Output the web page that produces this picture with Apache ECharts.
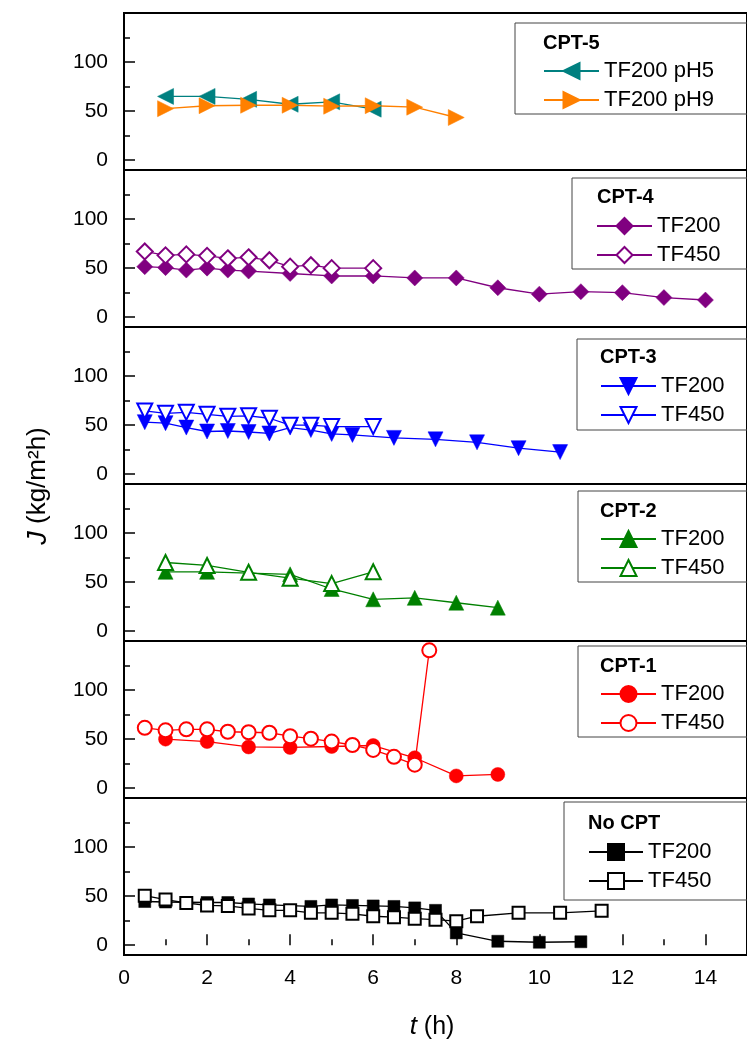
<!DOCTYPE html>
<html><head><meta charset="utf-8">
<script src="https://cdn.jsdelivr.net/npm/echarts@6/dist/echarts.min.js"></script>
<style>html,body{margin:0;padding:0;background:#fff}#c{width:747px;height:1046px}</style>
</head><body><div id="c"></div>
<script>
// ---- tick values ----
const xTickLabels = [0, 2, 4, 6, 8, 10, 12, 14];
const xMinorTicks = [1, 3, 5, 7, 9, 11, 13];
const yTickLabels = [0, 50, 100];
const yMinorTicks = [25, 75, 125];

// ---- panel titles (top to bottom) ----
const panelTitles = ['CPT-5', 'CPT-4', 'CPT-3', 'CPT-2', 'CPT-1', 'No CPT'];

// ---- data: [t (h), J (kg/m2h)] ----
const cpt5_pH5 = [[1,65],[2,65],[3,62],[4,57],[5,59.5],[6,52]];
const cpt5_pH9 = [[1,52.5],[2,55.5],[3,56],[4,56],[5,55],[6,55.5],[7,54],[8,43.5]];

const cpt4_TF200 = [[0.5,51.5],[1,50.5],[1.5,48],[2,50],[2.5,48],[3,47],[4,44.5],[5,42],[6,42],[7,40],[8,40],[9,30],[10,23.5],[11,26],[12,25],[13,20],[14,17.5]];
const cpt4_TF450 = [[0.5,67],[1,63],[1.5,64],[2,62.5],[2.5,60],[3,61],[3.5,58],[4,51.5],[4.5,53],[5,50],[6,50]];

const cpt3_TF200 = [[0.5,53],[1,52],[1.5,47.5],[2,43.5],[2.5,44],[3,43],[3.5,41.5],[4,47.5],[4.5,45],[5,41],[5.5,40],[6.5,37],[7.5,35.5],[8.5,32.5],[9.5,26.5],[10.5,22.5]];
const cpt3_TF450 = [[0.5,64.5],[1,62],[1.5,63],[2,61],[2.5,59],[3,59.5],[3.5,57],[4,50],[4.5,50],[5,48.5],[6,48.5]];

const cpt2_TF200 = [[1,60.5],[2,60.5],[4,58],[5,43],[6,32.5],[7,34],[8,29],[9,24]];
const cpt2_TF450 = [[1,70],[2,67],[3,60],[4,54],[5,48.5],[6,60.5]];

const cpt1_TF200 = [[1,50],[2,47.5],[3,42],[4,41.5],[5,42.5],[6,43.5],[7,31],[8,12.5],[9,14]];
const cpt1_TF450 = [[0.5,61.5],[1,59],[1.5,60],[2,60],[2.5,57.5],[3,57],[3.5,56.5],[4,53],[4.5,50.5],[5,47.5],[5.5,44],[6,39],[6.5,32],[7,24],[7.35,140.5]];

const nocpt_TF200 = [[0.5,44.5],[1,44],[2,43.5],[2.5,43.5],[3,42],[3.5,41],[4.5,39.5],[5,41],[5.5,40.5],[6,40],[6.5,39.5],[7,38],[7.5,35.5],[8,12.5],[9,4],[10,3],[11,3.5]];
const nocpt_TF450 = [[0.5,50.5],[1,46.5],[1.5,43],[2,40.5],[2.5,40],[3,37.5],[3.5,35.5],[4,35.5],[4.5,33],[5,33],[5.5,32],[6,29.5],[6.5,28.5],[7,27],[7.5,26],[8,24.5],[8.5,29.5],[9.5,33],[10.5,33],[11.5,35]];

// ---- layout / style ----
const FONT = 'Liberation Sans, Arial, Helvetica, sans-serif';
const GRID_LEFT = 124, GRID_TOP = 13, PANEL_H = 157, GRID_W = 630;

const panels = [
  { series: [
      { label: 'TF200 pH5', data: cpt5_pH5, color: '#008080', symbol: 'triangle', rotate: 90, size: 16 },
      { label: 'TF200 pH9', data: cpt5_pH9, color: '#FF8000', symbol: 'triangle', rotate: -90, size: 16 } ],
    box: [515, 23, 260, 91], title: [543, 43], leg: [543, 61], itemW: 55 },
  { series: [
      { label: 'TF200', data: cpt4_TF200, color: '#800080', symbol: 'diamond', size: 16 },
      { label: 'TF450', data: cpt4_TF450, color: '#800080', symbol: 'emptyDiamond', size: 16 } ],
    box: [572, 178, 200, 91], title: [597, 197], leg: [596, 216], itemW: 55 },
  { series: [
      { label: 'TF200', data: cpt3_TF200, color: '#0000FF', symbol: 'triangle', rotate: 180, size: 15 },
      { label: 'TF450', data: cpt3_TF450, color: '#0000FF', symbol: 'emptyTriangle', rotate: 180, size: 15 } ],
    box: [577, 339, 200, 91], title: [600, 357], leg: [600, 376], itemW: 55 },
  { series: [
      { label: 'TF200', data: cpt2_TF200, color: '#008000', symbol: 'triangle', size: 15 },
      { label: 'TF450', data: cpt2_TF450, color: '#008000', symbol: 'emptyTriangle', size: 15 } ],
    box: [578, 491, 200, 91], title: [600, 511], leg: [600, 529], itemW: 55 },
  { series: [
      { label: 'TF200', data: cpt1_TF200, color: '#FF0000', symbol: 'circle', size: 14 },
      { label: 'TF450', data: cpt1_TF450, color: '#FF0000', symbol: 'emptyCircle', size: 14 } ],
    box: [578, 646, 200, 91], title: [600, 666], leg: [600, 684], itemW: 55 },
  { series: [
      { label: 'TF200', data: nocpt_TF200, color: '#000000', symbol: 'rect', size: 12 },
      { label: 'TF450', data: nocpt_TF450, color: '#000000', symbol: 'emptyRect', size: 12 } ],
    box: [564, 802, 220, 98], title: [588, 823], leg: [588, 842], itemW: 54 }
];

const grid = [], xAxis = [], yAxis = [], series = [], legend = [], graphic = [];

panels.forEach((p, i) => {
  grid.push({ left: GRID_LEFT, top: GRID_TOP + PANEL_H * i, width: GRID_W, height: PANEL_H,
    show: true, borderColor: '#000', borderWidth: 2, backgroundColor: 'transparent' });
  const isBottom = i === panels.length - 1;
  xAxis.push({ gridIndex: i, type: 'value', min: 0, max: 15, show: isBottom, position: 'bottom',
    axisLine: { show: false }, splitLine: { show: false },
    axisTick: { show: true, inside: true, length: 11, customValues: xTickLabels, lineStyle: { color: '#000', width: 1.5 } },
    axisLabel: { customValues: xTickLabels, fontSize: 21, fontFamily: FONT, color: '#000', margin: 13 } });
  // y major (labels) and minor ticks, both on the left, pointing inward
  yAxis.push({ gridIndex: i, type: 'value', min: -10, max: 150, position: 'left',
    axisLine: { show: false }, splitLine: { show: false },
    axisTick: { show: true, inside: true, length: 11, customValues: yTickLabels, lineStyle: { color: '#000', width: 1.5 } },
    axisLabel: { customValues: yTickLabels, fontSize: 21, fontFamily: FONT, color: '#000', margin: 16 } });
  yAxis.push({ gridIndex: i, type: 'value', min: -10, max: 150, position: 'left', offset: 0,
    axisLine: { show: false }, splitLine: { show: false },
    axisTick: { show: true, inside: true, length: 6, customValues: yMinorTicks, lineStyle: { color: '#000', width: 1.5 } },
    axisLabel: { show: false } });

  const names = [];
  p.series.forEach(s => {
    const name = panelTitles[i] + '|' + s.label;
    names.push(name);
    const empty = s.symbol.indexOf('empty') === 0;
    series.push({
      type: 'line', name, xAxisIndex: i, yAxisIndex: 2 * i, data: s.data,
      symbol: s.symbol, symbolSize: s.size, symbolRotate: s.rotate || 0,
      showSymbol: true, animation: false,
      lineStyle: { color: s.color, width: 1.3 },
      itemStyle: empty ? { color: s.color, borderColor: s.color, borderWidth: 1.5 }
                       : { color: s.color, borderColor: s.color, borderWidth: 0.5 },
      emphasis: { disabled: true }
    });
  });

  legend.push({
    orient: 'vertical', left: p.leg[0], top: p.leg[1] - 1, padding: 0,
    itemWidth: p.itemW, itemHeight: 20, itemGap: 7, selectedMode: false,
    data: names, formatter: n => n.split('|')[1],
    textStyle: { fontSize: 22, fontFamily: FONT, color: '#000' }
  });

  graphic.push({ type: 'rect', shape: { x: p.box[0], y: p.box[1], width: p.box[2], height: p.box[3] },
    style: { fill: 'transparent', stroke: '#444', lineWidth: 1 }, z: 1 });
  graphic.push({ type: 'text', x: p.title[0], y: p.title[1],
    style: { text: panelTitles[i], font: 'bold 20px ' + FONT, fill: '#000', align: 'left', verticalAlign: 'middle' }, z: 2 });
});

// extra axis for the minor x ticks of the bottom panel
xAxis.push({ gridIndex: panels.length - 1, type: 'value', min: 0, max: 15, position: 'bottom', offset: 0,
  axisLine: { show: false }, splitLine: { show: false },
  axisTick: { show: true, inside: true, length: 6, customValues: xMinorTicks, lineStyle: { color: '#000', width: 1.5 } },
  axisLabel: { show: false } });

// axis titles
graphic.push({ type: 'text', x: 38, y: 486, rotation: Math.PI / 2,
  style: { text: '{i|J} (kg/m\u00B2h)', font: '26px ' + FONT, fill: '#000', align: 'center', verticalAlign: 'middle',
    rich: { i: { fontStyle: 'italic', fontSize: 27, fontFamily: FONT, fill: '#000' } } } });
graphic.push({ type: 'text', x: 432, y: 1027,
  style: { text: '{i|t} (h)', font: '25px ' + FONT, fill: '#000', align: 'center', verticalAlign: 'middle',
    rich: { i: { fontStyle: 'italic', fontSize: 26, fontFamily: FONT, fill: '#000' } } } });

const chart = echarts.init(document.getElementById('c'), null, { renderer: 'canvas' });
chart.setOption({ backgroundColor: '#fff', animation: false, grid, xAxis, yAxis, series, legend, graphic });
</script></body></html>
